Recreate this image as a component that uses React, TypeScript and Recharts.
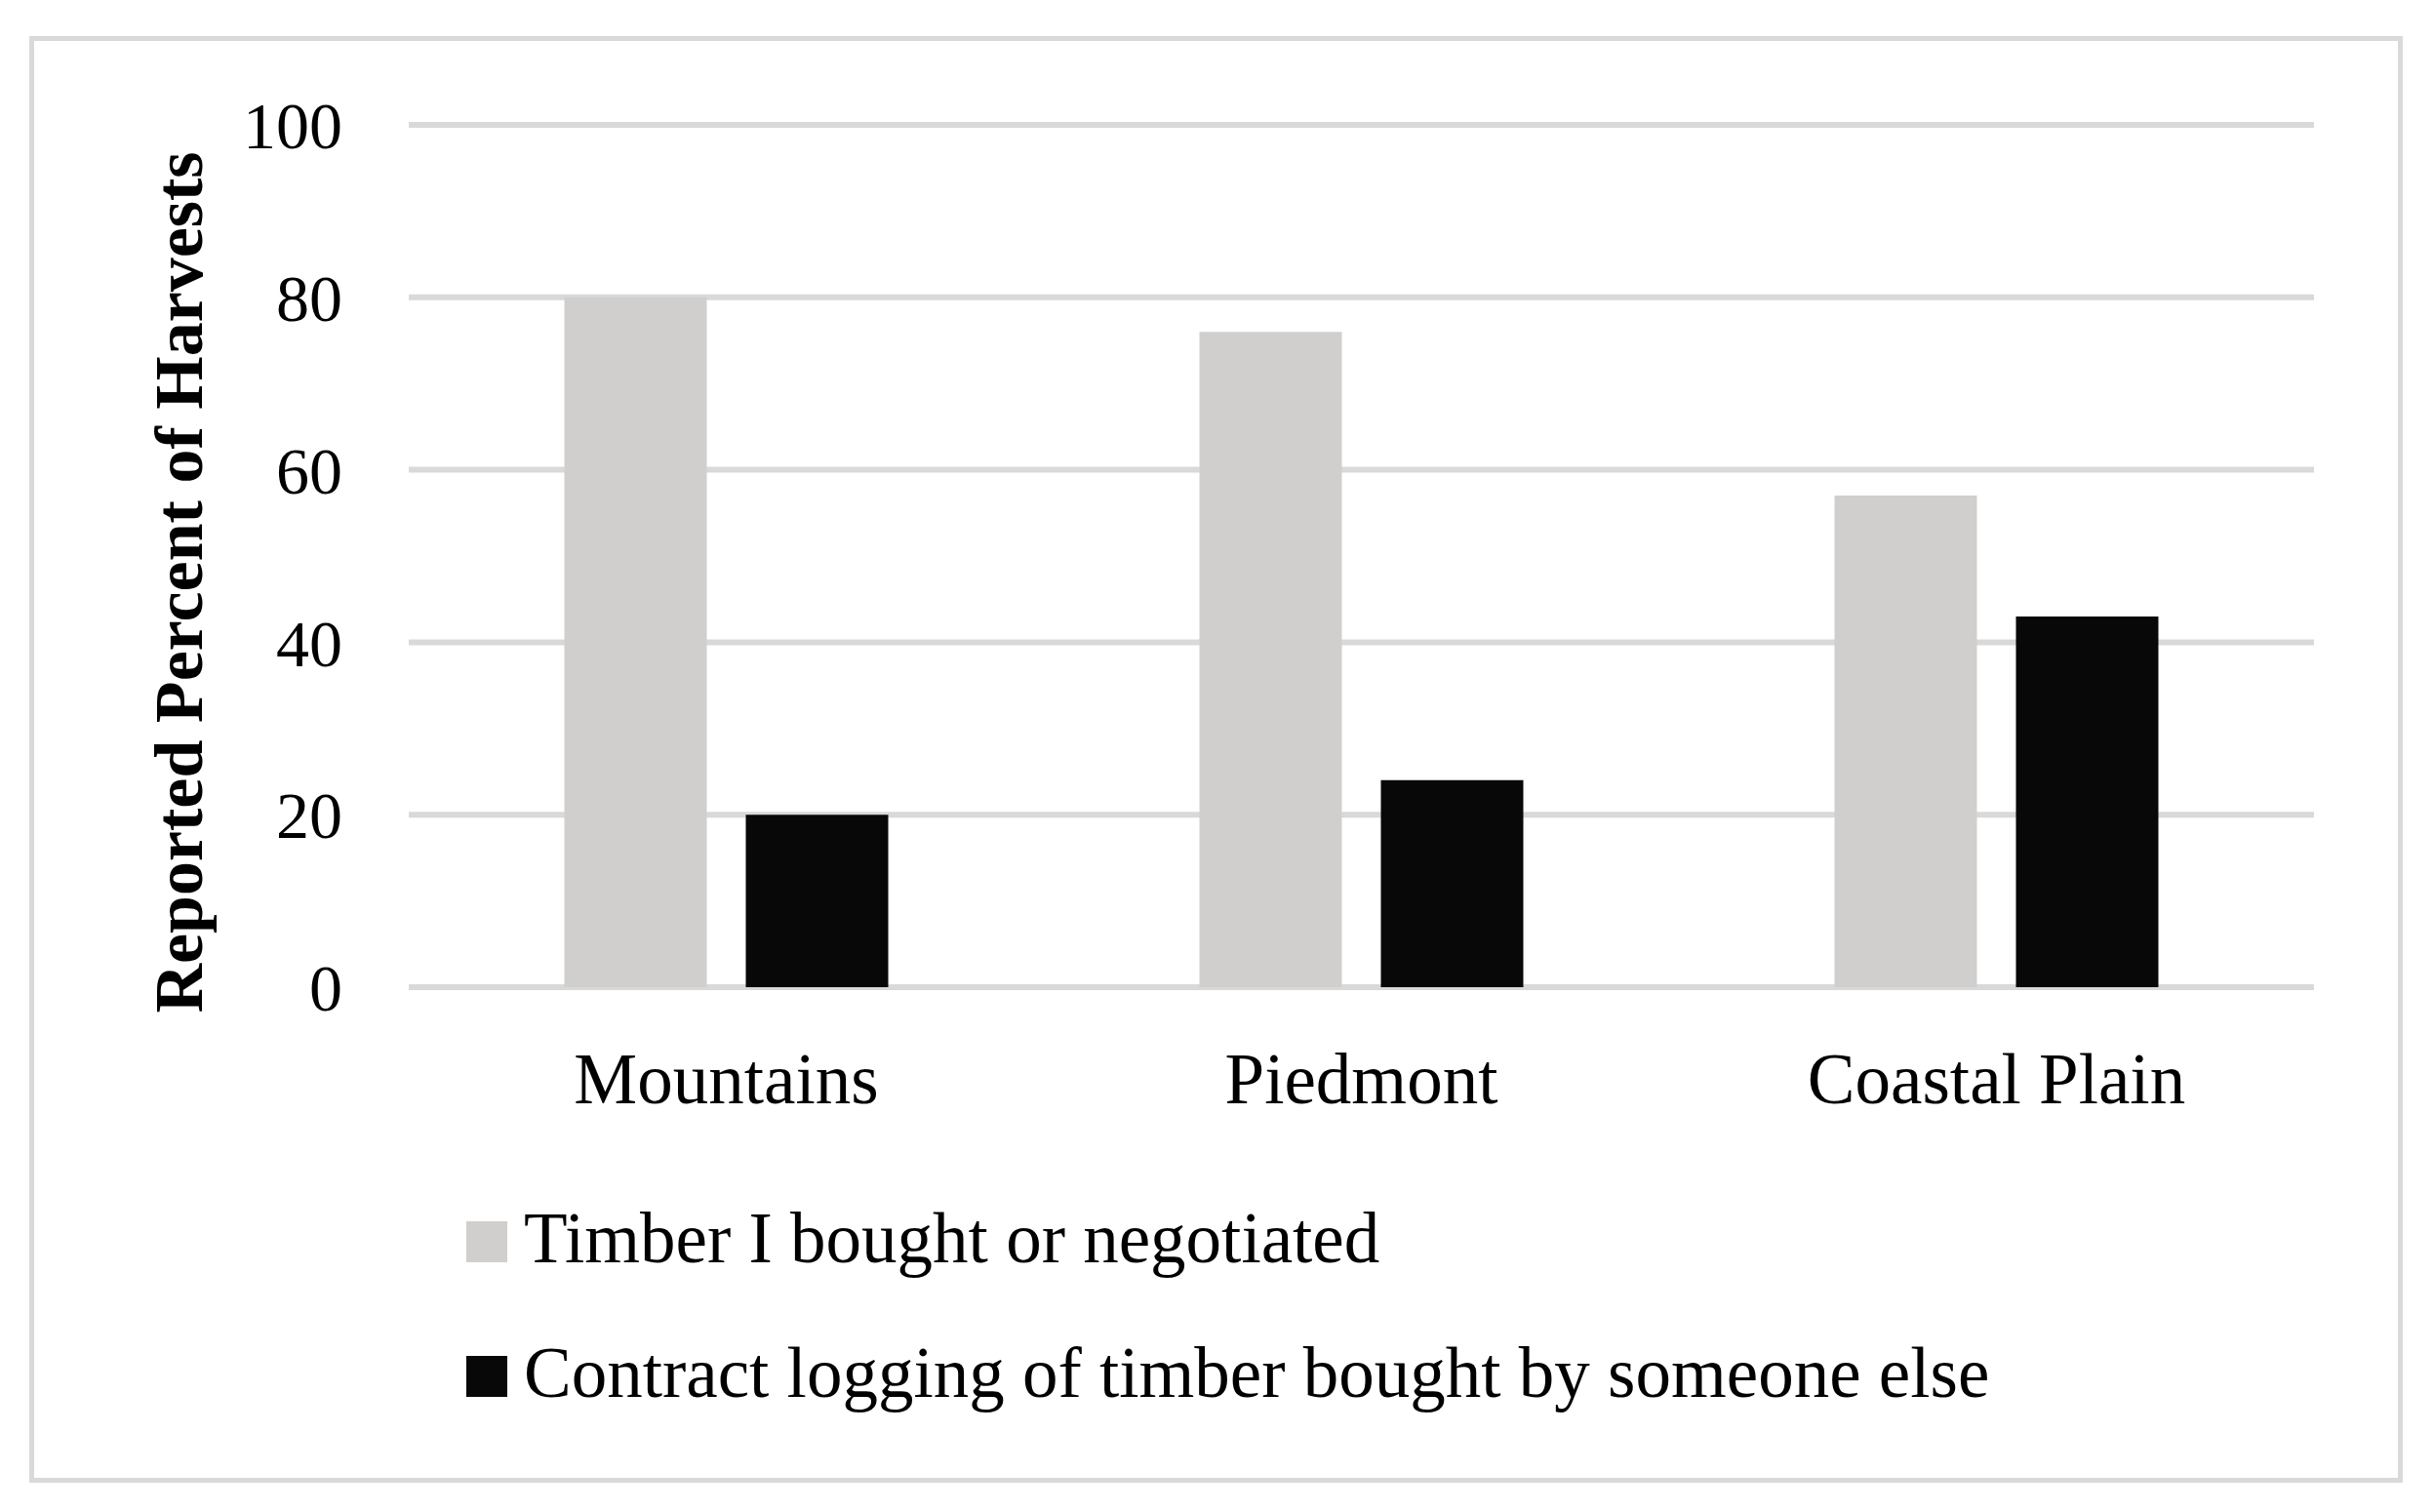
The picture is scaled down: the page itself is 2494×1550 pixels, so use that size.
import { Bar, BarChart, CartesianGrid, Legend, XAxis, YAxis } from 'recharts'

const REGIONS = ['Mountains', 'Piedmont', 'Coastal Plain']
const BOUGHT = [80, 76, 57]
const CONTRACT = [20, 24, 43]
const Y_TICKS = [0, 20, 40, 60, 80, 100]

const SERIES_NAMES = ['Timber I bought or negotiated', 'Contract logging of timber bought by someone else']
const SERIES_COLORS = ['#d0cfcd', '#080808']

const data = REGIONS.map((region, i) => ({ region, bought: BOUGHT[i], contract: CONTRACT[i] }))

const FONT = '"Liberation Serif", "Times New Roman", serif'

function YTitle({ viewBox }: any) {
  const x = viewBox.x + 207
  const y = viewBox.y + viewBox.height / 2 + 27
  return (
    <text x={x} y={y} transform={`rotate(-90 ${x} ${y})`} textAnchor="middle" fontFamily={FONT} fontWeight="bold" fontSize={70} fill="#000">
      Reported Percent of Harvests
    </text>
  )
}

// legend keeps the series order, not the alphabetical one
function LegendBlock({ payload }: any) {
  const items = [...(payload ?? [])].sort(
    (a: any, b: any) => SERIES_NAMES.indexOf(a.value) - SERIES_NAMES.indexOf(b.value),
  )
  return (
    <svg width={1700} height={320} style={{ display: 'block' }}>
      {items.map((item: any, i: number) => (
        <g key={item.value} transform={`translate(0 ${60 + i * 138})`}>
          <rect x={0} y={12} width={42} height={42} fill={item.color} />
          <text x={59} y={54} fontFamily={FONT} fontSize={73} fill="#000">
            {item.value}
          </text>
        </g>
      ))}
    </svg>
  )
}

export default function App() {
  return (
    <div style={{ position: 'relative', width: 2494, height: 1550, background: '#fff' }}>
      <style>{'body{margin:0}'}</style>
      <div
        style={{
          position: 'absolute',
          left: 30,
          top: 37,
          width: 2433,
          height: 1483,
          boxSizing: 'border-box',
          border: '5px solid #d9d9d9',
        }}
      />
      <BarChart
        width={2494}
        height={1550}
        data={data}
        margin={{ top: 128, right: 122, left: 0, bottom: 388 }}
        barCategoryGap="24.5%"
        barGap={40}
        style={{ position: 'absolute', left: 0, top: 0 }}
      >
        <CartesianGrid vertical={false} stroke="#d9d9d9" strokeWidth={6} />
        <XAxis
          dataKey="region"
          height={150}
          axisLine={false}
          tickLine={false}
          tickSize={0}
          tickMargin={67}
          tick={{ fill: '#000', fontSize: 73, fontFamily: FONT }}
        />
        <YAxis
          width={419}
          domain={[0, 100]}
          ticks={Y_TICKS}
          axisLine={false}
          tickLine={false}
          tickSize={0}
          tickMargin={68}
          tick={{ fill: '#000', fontSize: 68, fontFamily: FONT }}
          label={<YTitle />}
        />
        <Legend
          layout="vertical"
          align="center"
          verticalAlign="middle"
          wrapperStyle={{ left: 478, top: 1180, width: 1700, height: 320 }}
          content={<LegendBlock />}
        />
        <Bar dataKey="bought" name={SERIES_NAMES[0]} fill={SERIES_COLORS[0]} isAnimationActive={false} />
        <Bar dataKey="contract" name={SERIES_NAMES[1]} fill={SERIES_COLORS[1]} isAnimationActive={false} />
      </BarChart>
    </div>
  )
}
